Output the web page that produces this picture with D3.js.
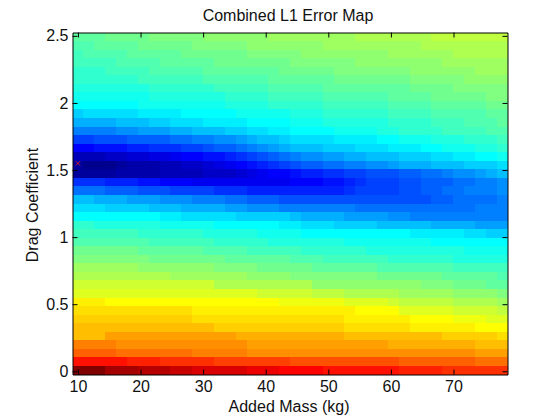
<!DOCTYPE html>
<html>
<head>
<meta charset="utf-8">
<script src="https://cdn.jsdelivr.net/npm/d3@7/dist/d3.min.js"></script>
<style>
html,body{margin:0;padding:0;background:#fff}
svg{display:block}
text{font-family:"Liberation Sans",Arial,sans-serif;fill:#111}
</style>
</head>
<body>
<svg id="chart" width="560" height="420"></svg>
<script>
const titleText = "Combined L1 Error Map";
const xLabelText = "Added Mass (kg)";
const yLabelText = "Drag Coefficient";
const xTicks = [10,20,30,40,50,60,70];
const yTicks = [0,0.5,1,1.5,2,2.5];
const xDomain = [9.13,78.63];
const yDomain = [-0.024,2.525];
const bestPoint = [10,1.55];
const jetStops = [0,8,24,40,56,63];
const jetColors = ["#00008f","#0000ff","#00ffff","#ffff00","#ff0000","#800000"];
const addedMass = [10,11.74,13.47,15.21,16.95,18.69,20.43,22.16,23.9,25.64,27.38,29.11,30.85,32.59,34.33,36.06,37.8,39.54,41.28,43.01,44.75,46.49,48.23,49.96,51.7,53.44,55.18,56.91,58.65,60.39,62.13,63.86,65.6,67.34,69.08,70.81,72.55,74.29,76.03,77.76];
const dragCoef = [2.494,2.43,2.366,2.303,2.239,2.175,2.111,2.048,1.984,1.92,1.856,1.793,1.729,1.665,1.601,1.538,1.474,1.41,1.346,1.283,1.219,1.155,1.092,1.028,0.964,0.9,0.837,0.773,0.709,0.645,0.582,0.518,0.454,0.39,0.327,0.263,0.199,0.135,0.072,0.008];
// colour-index of each cell, one row per drag coefficient, top row first
const errorMap = [
[30,30,30,31,31,31,31,32,32,32,32,32,33,33,33,33,33,33,34,34,34,34,34,34,34,34,35,35,35,35,35,35,35,36,36,36,36,36,36,36],
[29,29,30,30,30,30,31,31,31,31,31,32,32,32,32,32,33,33,33,33,33,33,33,34,34,34,34,34,34,34,34,34,35,35,35,35,35,35,35,35],
[28,29,29,29,29,30,30,30,30,30,31,31,31,31,31,31,32,32,32,32,32,33,33,33,33,33,33,33,33,34,34,34,34,34,34,35,35,35,35,35],
[28,28,28,28,29,29,29,29,30,30,30,30,30,31,31,31,31,31,31,31,32,32,32,32,32,32,33,33,33,33,33,33,33,33,34,34,34,34,34,34],
[27,27,27,28,28,28,28,29,29,29,29,29,30,30,30,30,30,30,30,31,31,31,31,31,32,32,32,32,32,32,32,33,33,33,33,33,33,34,34,34],
[27,27,27,27,27,27,28,28,28,28,28,28,29,29,29,29,29,29,30,30,30,30,30,30,31,31,31,31,31,31,31,32,32,32,32,32,33,33,33,33],
[26,26,26,26,26,26,26,27,27,27,27,27,27,28,28,28,28,28,29,29,29,29,29,30,30,30,30,30,30,30,30,31,31,31,31,32,32,32,32,32],
[25,25,25,25,25,25,25,26,26,26,26,26,26,26,27,27,27,27,28,28,28,28,28,29,29,29,29,29,29,30,30,30,30,31,31,31,31,31,32,32],
[24,24,24,24,24,24,25,25,25,25,25,25,25,25,26,26,26,26,27,27,27,27,27,28,28,28,28,28,28,29,29,29,29,30,30,30,30,30,31,31],
[21,22,22,22,22,22,23,23,23,23,24,24,24,24,24,25,25,25,25,25,26,26,26,27,27,27,27,27,27,28,28,28,28,29,29,29,29,29,30,30],
[19,19,19,19,20,20,20,21,21,22,22,22,23,23,23,23,24,24,24,24,25,25,25,26,26,26,26,26,26,27,27,27,27,28,28,28,29,29,29,30],
[16,16,16,16,17,17,18,18,18,19,19,20,20,20,21,21,22,22,23,23,24,24,24,24,25,25,25,25,26,26,27,27,27,27,28,28,28,28,29,29],
[12,12,13,13,13,14,14,14,14,15,15,16,16,17,17,18,19,20,20,21,22,22,22,22,23,23,23,23,24,24,25,25,25,26,26,26,27,27,27,28],
[8,8,9,9,9,10,10,11,11,11,12,12,13,14,14,15,16,17,18,19,20,20,20,21,21,21,22,22,22,23,23,23,24,24,25,25,25,26,26,27],
[3,3,3,4,4,5,5,6,6,7,8,8,9,9,10,11,12,13,14,15,16,17,17,18,18,19,19,20,20,20,21,21,21,22,22,23,23,24,24,25],
[1,0,0,0,1,2,2,2,3,3,4,4,5,6,7,8,9,10,11,12,13,14,14,15,15,16,16,17,17,18,19,19,19,20,20,20,21,21,21,22],
[1,1,1,1,2,2,2,2,3,3,3,3,4,4,4,5,6,7,8,8,9,10,10,11,11,12,12,13,13,13,14,14,15,15,16,17,17,18,19,20],
[11,11,11,10,10,10,9,9,8,8,8,7,7,7,7,7,7,7,7,7,8,8,8,9,9,10,11,12,12,12,13,13,14,14,14,15,15,16,16,17],
[15,15,15,14,14,14,13,13,13,12,12,12,12,11,11,11,10,10,10,10,10,10,10,10,10,11,12,12,12,12,13,13,14,14,15,15,16,16,16,17],
[20,20,19,19,19,18,18,18,17,17,17,16,16,16,15,15,14,14,14,13,13,13,13,13,13,13,13,13,13,13,13,13,13,14,14,15,15,15,15,16],
[22,22,22,21,21,21,21,20,20,20,19,19,19,19,18,18,17,17,17,16,16,16,16,16,16,16,15,15,15,15,15,15,15,15,15,15,15,16,16,16],
[24,24,24,24,24,24,24,24,23,23,22,22,22,22,22,21,21,21,21,21,20,19,19,19,19,18,18,18,18,17,17,16,16,16,16,16,16,16,16,16],
[27,27,26,26,26,26,26,26,25,25,25,25,25,24,24,24,24,24,24,23,23,22,22,22,21,21,21,21,20,20,20,20,20,19,19,19,19,18,18,18],
[28,28,28,28,28,28,27,27,27,27,27,27,26,26,26,26,26,25,25,25,25,24,24,24,24,24,24,24,24,24,24,23,23,23,23,23,22,22,21,21],
[29,29,29,29,29,29,29,28,28,28,28,28,28,27,27,27,27,27,26,26,26,26,26,26,26,25,25,25,25,25,25,25,25,24,24,24,24,24,24,24],
[31,31,31,31,31,31,30,30,30,30,30,30,29,29,29,29,28,28,28,28,28,27,27,27,27,27,27,26,26,26,26,26,26,26,26,26,25,25,25,25],
[32,32,32,32,32,32,32,31,31,31,31,31,31,31,30,30,30,30,30,30,29,29,29,28,28,28,28,28,28,27,27,27,27,27,27,26,26,26,26,26],
[34,34,34,34,34,34,33,33,33,33,33,33,33,32,32,32,32,31,31,31,31,31,30,30,30,30,30,30,29,29,29,29,29,29,29,28,28,28,28,28],
[35,35,35,35,35,35,35,35,35,34,34,34,34,34,34,34,33,33,33,33,32,32,32,32,32,32,32,32,31,31,31,31,31,31,30,30,30,30,30,29],
[37,37,37,37,37,37,37,37,37,37,37,37,37,35,35,35,35,35,35,35,35,35,33,33,33,33,33,33,33,33,33,33,32,32,32,31,31,31,30,30],
[38,38,38,38,38,38,38,38,38,38,38,38,38,38,38,38,38,37,37,37,37,37,36,36,36,35,35,35,35,35,34,34,34,34,34,33,33,33,33,32],
[41,41,41,40,40,40,40,40,40,40,40,40,40,40,40,40,40,40,40,39,39,39,39,39,39,38,38,38,38,37,36,36,36,36,36,35,35,35,35,34],
[42,42,42,42,42,42,42,42,42,42,42,41,41,41,41,41,41,41,41,41,41,41,41,41,41,41,40,40,40,40,38,38,38,38,38,37,37,37,37,36],
[43,43,43,43,43,43,43,43,43,43,43,42,42,42,42,42,42,42,42,42,42,42,42,42,42,41,41,41,41,41,41,40,40,40,40,39,39,39,38,38],
[44,44,44,44,44,44,44,44,44,44,44,44,44,43,43,43,43,43,43,43,43,43,43,43,43,42,42,42,42,42,42,41,41,41,41,41,41,40,40,40],
[44,44,44,46,46,46,46,46,46,46,46,46,46,46,46,45,45,45,45,45,45,45,45,45,45,44,44,44,44,44,44,44,44,44,43,43,43,43,43,42],
[48,48,48,48,47,47,47,47,47,47,47,47,47,47,47,47,46,46,46,46,46,46,46,46,46,46,46,46,46,45,45,45,45,45,45,45,45,44,44,44],
[50,50,50,50,49,49,49,49,49,49,49,48,48,48,48,48,47,47,47,47,47,47,47,47,47,47,47,47,47,47,47,47,47,47,47,47,47,46,46,46],
[55,55,55,55,55,54,54,54,53,53,53,53,53,52,52,52,52,52,52,52,51,51,51,51,51,51,51,51,51,51,50,50,50,50,50,50,50,49,49,49],
[63,63,63,61,61,61,60,60,60,59,59,58,58,58,58,58,57,57,57,56,56,56,56,55,55,55,55,55,55,55,54,54,54,54,53,53,53,53,53,53]
];

const plotL = 72.5, plotR = 507.5, plotT = 32.5, plotB = 374.5;
const svg = d3.select("#chart");
const x = d3.scaleLinear().domain(xDomain).range([plotL,plotR]);
const y = d3.scaleLinear().domain(yDomain).range([plotB,plotT]);
const colBand = d3.scaleBand().domain(addedMass).range([plotL,plotR]);
const rowBand = d3.scaleBand().domain(dragCoef).range([plotT,plotB]);
const jet = d3.scaleLinear().domain(jetStops).range(jetColors).interpolate(d3.interpolateRgb);

const cells = errorMap.flatMap((vals,r)=>vals.map((v,c)=>({m:addedMass[c],d:dragCoef[r],v})));
svg.append("g").attr("shape-rendering","crispEdges").selectAll("rect").data(cells).join("rect")
  .attr("x",d=>colBand(d.m)).attr("y",d=>rowBand(d.d))
  .attr("width",colBand.bandwidth()+0.5).attr("height",rowBand.bandwidth()+0.5)
  .attr("fill",d=>jet(d.v));

// best-fit marker
svg.append("path")
  .attr("d",d3.symbol(d3.symbolTimes,14)())
  .attr("transform",`translate(${x(bestPoint[0])},${y(bestPoint[1])})`)
  .attr("fill","none").attr("stroke","#e0202a").attr("stroke-width",0.9);

function styleAxis(g){
  g.select(".domain").attr("stroke","#000").attr("stroke-width",1);
  g.selectAll(".tick line").attr("stroke","#000").attr("stroke-width",1);
  g.selectAll("text").attr("font-size",16).attr("font-family",'"Liberation Sans",Arial,sans-serif').attr("fill","#111");
}
svg.append("g").attr("transform",`translate(0,${plotB})`)
  .call(d3.axisBottom(x).tickValues(xTicks).tickSizeInner(-5).tickSizeOuter(0).tickPadding(6).tickFormat(d3.format("d"))).call(styleAxis);
svg.append("g").attr("transform",`translate(0,${plotT})`)
  .call(d3.axisTop(x).tickValues(xTicks).tickSizeInner(-5).tickSizeOuter(0).tickFormat("")).call(styleAxis);
svg.append("g").attr("transform",`translate(${plotL},0)`)
  .call(d3.axisLeft(y).tickValues(yTicks).tickSizeInner(-5).tickSizeOuter(0).tickPadding(4).tickFormat(d=>String(d))).call(styleAxis);
svg.append("g").attr("transform",`translate(${plotR},0)`)
  .call(d3.axisRight(y).tickValues(yTicks).tickSizeInner(-5).tickSizeOuter(0).tickFormat("")).call(styleAxis);

svg.append("text").attr("x",288).attr("y",21).attr("text-anchor","middle").attr("font-size",16).text(titleText);
svg.append("text").attr("x",289).attr("y",412).attr("text-anchor","middle").attr("font-size",16).text(xLabelText);
svg.append("text").attr("transform","translate(37.5,205) rotate(-90)").attr("text-anchor","middle").attr("font-size",16).text(yLabelText);
</script>
</body>
</html>
